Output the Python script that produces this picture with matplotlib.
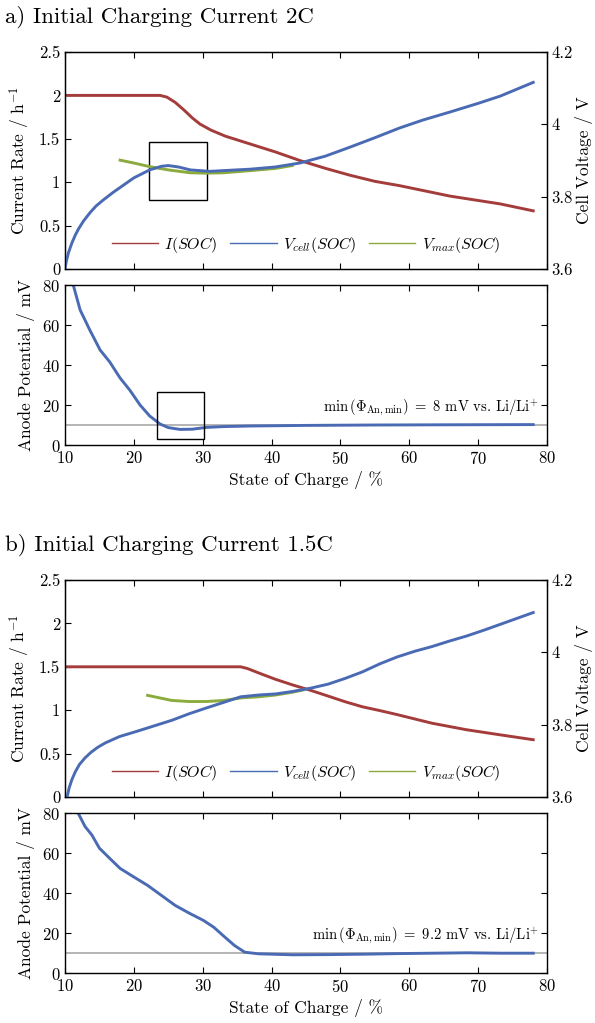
import matplotlib
matplotlib.use("Agg")
import matplotlib.pyplot as plt
from matplotlib.ticker import FormatStrFormatter
from matplotlib.patches import Rectangle
from matplotlib.lines import Line2D

plt.rcParams['font.family'] = 'serif'
plt.rcParams['font.serif'] = ['cmr10']
plt.rcParams['mathtext.fontset'] = 'cm'
plt.rcParams['axes.formatter.use_mathtext'] = True
plt.rcParams['font.size'] = 12

RED = '#a33c3a'
BLUE = '#4a6bb4'
GREEN = '#8bab3d'
GRAY = '#a8a8a8'

# ---- panel a: 2C ----
soc_i_a = [10, 23.8, 24.8, 26, 27.3, 28.5, 29.6, 31.2, 33.3, 36.9, 40.5, 44.1, 47.8, 51.4, 55, 58.6, 65.9, 73.2, 78]
cur_a = [2.0, 2.0, 1.98, 1.92, 1.83, 1.74, 1.67, 1.60, 1.53, 1.44, 1.35, 1.25, 1.16, 1.08, 1.01, 0.96, 0.84, 0.75, 0.67]

soc_v_a = [10, 10.2, 10.5, 11, 11.5, 12, 12.7, 13.6, 14.5, 15.5, 17, 18.5, 20, 22.3, 24, 25, 26.5, 28.2, 31, 36.9, 40.5, 44.1, 47.8, 51.4, 55, 58.6, 62, 65.9, 70, 73.2, 78]
volt_a = [3.6, 3.622, 3.645, 3.672, 3.694, 3.712, 3.733, 3.755, 3.774, 3.79, 3.812, 3.832, 3.852, 3.874, 3.884, 3.886, 3.882, 3.874, 3.870, 3.876, 3.882, 3.893, 3.912, 3.937, 3.963, 3.99, 4.012, 4.034, 4.058, 4.078, 4.116]

soc_m_a = [18, 20, 22.3, 25, 28.2, 30.6, 33, 36.9, 40.5, 43]
vmax_a = [3.901, 3.893, 3.883, 3.874, 3.866, 3.865, 3.866, 3.872, 3.878, 3.886]

soc_p_a = [11.2, 12.2, 13.6, 15.1, 16.5, 18.0, 19.4, 20.9, 22.3, 23.8, 25.0, 26.7, 28.5, 30.5, 33, 36.9, 45, 55, 65, 78]
phi_a = [80, 67.5, 57.5, 47.5, 41.5, 33.5, 27.5, 20, 14.5, 10.5, 8.7, 7.8, 7.9, 8.8, 9.2, 9.5, 9.8, 10.0, 10.1, 10.2]

# ---- panel b: 1.5C ----
soc_i_b = [10, 35.5, 36.5, 38.1, 40.6, 43.1, 45.7, 48.2, 50.7, 53.2, 55.7, 58.2, 63.3, 68.3, 73.3, 78]
cur_b = [1.5, 1.5, 1.48, 1.43, 1.355, 1.29, 1.228, 1.163, 1.097, 1.039, 0.996, 0.95, 0.85, 0.775, 0.715, 0.66]

soc_v_b = [10.3, 10.6, 11.0, 11.5, 12.1, 12.9, 13.8, 14.8, 15.9, 17.9, 20.5, 23.0, 25.5, 28.0, 30.5, 33.1, 35.5, 38.1, 40.6, 43.1, 45.7, 48.2, 50.7, 53.2, 55.7, 58.2, 60.8, 63.3, 65.8, 68.3, 70.8, 73.3, 78]
volt_b = [3.6, 3.625, 3.648, 3.67, 3.69, 3.708, 3.724, 3.738, 3.75, 3.767, 3.782, 3.797, 3.812, 3.83, 3.846, 3.862, 3.877, 3.882, 3.885, 3.892, 3.901, 3.912, 3.928, 3.946, 3.968, 3.987, 4.003, 4.016, 4.031, 4.045, 4.061, 4.078, 4.11]

soc_m_b = [22.0, 25.5, 28.0, 30.5, 33.1, 35.6, 38.1, 40.6, 43.1, 44.6]
vmax_b = [3.881, 3.867, 3.864, 3.864, 3.867, 3.874, 3.877, 3.882, 3.89, 3.896]

soc_p_b = [11.9, 12.9, 13.9, 15.0, 16.5, 18.0, 20.0, 22.0, 24.0, 26.0, 28.0, 30.1, 31.6, 33.1, 34.6, 36.1, 38.1, 43.1, 48.2, 53.3, 58.3, 63.4, 68.4, 73.4, 78]
phi_b = [80, 73.3, 69, 62.4, 57.3, 52.3, 48, 43.8, 38.8, 33.8, 30, 26.3, 22.9, 18.3, 13.8, 10.4, 9.6, 9.1, 9.2, 9.4, 9.7, 9.9, 10.1, 9.9, 9.9]

phi_limit = 10
x_ticks = [10, 20, 30, 40, 50, 60, 70, 80]

panels = [
    dict(title='a) Initial Charging Current 2C', minval='8',
         si=soc_i_a, i=cur_a, sv=soc_v_a, v=volt_a, sm=soc_m_a, vm=vmax_a, sp=soc_p_a, p=phi_a,
         boxes=True, off=0),
    dict(title='b) Initial Charging Current 1.5C', minval='9.2',
         si=soc_i_b, i=cur_b, sv=soc_v_b, v=volt_b, sm=soc_m_b, vm=vmax_b, sp=soc_p_b, p=phi_b,
         boxes=False, off=528),
]

fig = plt.figure(figsize=(5.95, 10.23), dpi=100)
L = 65 / 595
W = (547 - 65) / 595
H = 1023


def style(ax):
    ax.tick_params(direction='in', length=4, width=0.8, top=True, labelsize=12)
    for s in ax.spines.values():
        s.set_linewidth(1.0)


for pnl in panels:
    off = pnl['off']
    fig.text(5 / 595, 1 - (17 + off) / H, pnl['title'], fontsize=16.5, ha='left', va='center')

    ax1 = fig.add_axes([L, 1 - (269 + off) / H, W, 217 / H])
    ax2 = ax1.twinx()
    ax3 = fig.add_axes([L, 1 - (445 + off) / H, W, 160 / H])

    ax1.plot(pnl['si'], pnl['i'], color=RED, lw=2.1)
    ax2.plot(pnl['sm'], pnl['vm'], color=GREEN, lw=2.1)
    ax2.plot(pnl['sv'], pnl['v'], color=BLUE, lw=2.1)

    ax1.set_xlim(10, 80)
    ax1.set_ylim(0, 2.5)
    ax2.set_ylim(3.6, 4.2)
    ax1.set_xticks(x_ticks)
    ax1.set_xticklabels([])
    ax1.set_yticks([0, 0.5, 1, 1.5, 2, 2.5])
    ax2.set_yticks([3.6, 3.8, 4, 4.2])
    ax1.yaxis.set_major_formatter(FormatStrFormatter('%g'))
    ax2.yaxis.set_major_formatter(FormatStrFormatter('%g'))
    style(ax1)
    ax1.tick_params(right=False)
    ax2.tick_params(direction='in', length=4, width=0.8, labelsize=12, pad=3)
    ax1.set_ylabel('Current Rate / h$^{-1}$', fontsize=12.5, labelpad=5)
    ax2.set_ylabel('Cell Voltage / V', fontsize=12.5, labelpad=2)

    handles = [Line2D([], [], color=RED, lw=1),
               Line2D([], [], color=BLUE, lw=1),
               Line2D([], [], color=GREEN, lw=1)]
    ax1.legend(handles, ['$I(SOC)$', '$V_{cell}(SOC)$', '$V_{max}(SOC)$'],
               loc='lower center', bbox_to_anchor=(0.5, 0.0), ncol=3, frameon=False,
               fontsize=11.5, handlelength=2.9, columnspacing=0.8, handletextpad=0.4)

    ax3.axhline(phi_limit, color=GRAY, lw=1.2)
    ax3.plot(pnl['sp'], pnl['p'], color=BLUE, lw=2.1)
    ax3.set_xlim(10, 80)
    ax3.set_ylim(0, 80)
    ax3.set_xticks(x_ticks)
    ax3.set_yticks([0, 20, 40, 60, 80])
    style(ax3)
    ax3.tick_params(right=True)
    ax3.set_ylabel('Anode Potential / mV', fontsize=12.5, labelpad=5)
    ax3.set_xlabel('State of Charge / %', fontsize=12.5, labelpad=3)
    ax3.text(78.8, 13.5, r'$\min\,(\Phi_{\mathrm{An,min}})\ =\ ' + pnl['minval'] + r'$ mV vs. Li/Li$^{+}$',
             ha='right', va='bottom', fontsize=10.5)

    if pnl['boxes']:
        ax1.add_patch(Rectangle((22.2, 0.80), 8.4, 0.66, fill=False, ec='black', lw=1, zorder=5))
        ax3.add_patch(Rectangle((23.4, 2.85), 6.8, 23.75, fill=False, ec='black', lw=1, zorder=5))

fig.savefig('out.png', dpi=100)
